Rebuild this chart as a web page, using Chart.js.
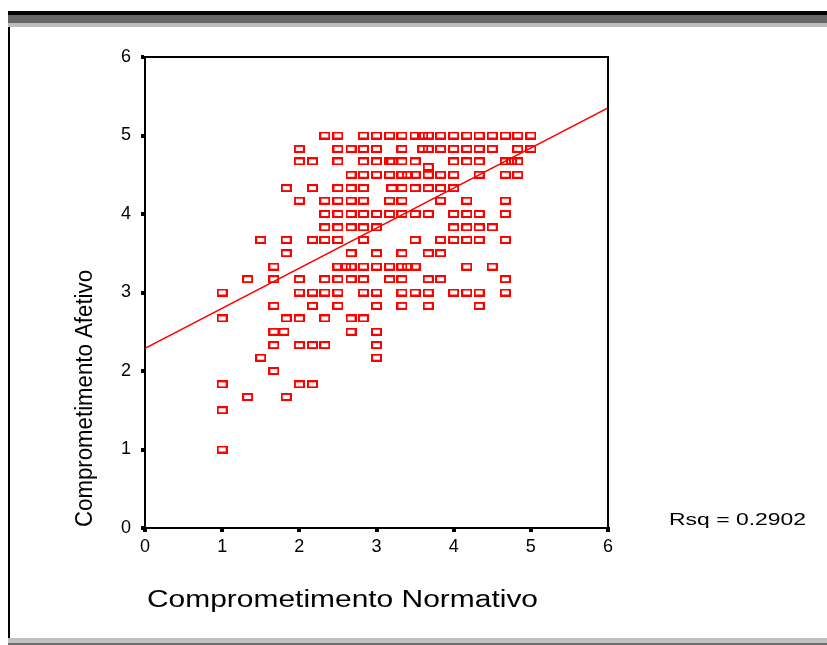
<!DOCTYPE html>
<html>
<head>
<meta charset="utf-8">
<title>Comprometimento Afetivo x Normativo</title>
<script src="https://cdn.jsdelivr.net/npm/chart.js@4"></script>
<style>
  html, body { margin: 0; padding: 0; background: #ffffff; }
  #wrap { width: 827px; height: 645px; }
</style>
</head>
<body>
<div id="wrap"><canvas id="scatterChart" width="827" height="645"></canvas></div>
<script>
(() => {
// ============================================================
// Scatter: Comprometimento Normativo (x) vs Afetivo (y)
// ============================================================

// y levels (Afetivo), one row of Normativo values per level
const afetivoLevels = [5, 4.83, 4.67, 4.6, 4.5, 4.33, 4.17, 4, 3.83, 3.67, 3.5, 3.33, 3.17, 3, 2.83, 2.67, 2.5, 2.33, 2.17, 2, 1.83, 1.67, 1.5, 1];

const normativoByLevel = [
  [2.33, 2.5, 2.83, 3, 3.17, 3.33, 3.5, 3.6, 3.67, 3.83, 4, 4.17, 4.33, 4.5, 4.67, 4.83, 5],
  [2, 2.5, 2.67, 2.83, 3, 3.33, 3.6, 3.67, 3.83, 4, 4.17, 4.33, 4.5, 4.83, 5],
  [2, 2.17, 2.5, 2.83, 3, 3.17, 3.2, 3.33, 3.5, 4, 4.17, 4.33, 4.67, 4.75, 4.83],
  [3.67],
  [2.67, 2.83, 3, 3.17, 3.33, 3.4, 3.5, 3.67, 3.83, 4, 4.33, 4.67, 4.83],
  [1.83, 2.17, 2.5, 2.67, 2.83, 3.2, 3.33, 3.5, 3.67, 3.83, 4],
  [2, 2.33, 2.5, 2.67, 2.83, 3.17, 3.33, 3.83, 4.17, 4.67],
  [2.33, 2.5, 2.67, 2.83, 3, 3.17, 3.33, 3.5, 3.67, 4, 4.17, 4.33, 4.67],
  [2.33, 2.5, 2.67, 2.83, 3, 4, 4.17, 4.33, 4.5],
  [1.5, 1.83, 2.17, 2.33, 2.5, 2.83, 3.5, 3.83, 4, 4.17, 4.33, 4.67],
  [1.83, 2.67, 3, 3.33, 3.67, 3.83],
  [1.67, 2.5, 2.6, 2.67, 2.83, 3, 3.17, 3.33, 3.4, 3.5, 4.17, 4.5],
  [1.33, 1.67, 2, 2.33, 2.5, 2.67, 2.83, 3.17, 3.33, 3.67, 3.83, 4.67],
  [1, 2, 2.17, 2.33, 2.5, 2.83, 3, 3.33, 3.5, 3.67, 4, 4.17, 4.33, 4.67],
  [1.67, 2.17, 2.5, 3, 3.33, 3.67, 4.33],
  [1, 1.83, 2, 2.33, 2.67, 2.83],
  [1.67, 1.8, 2.67, 3],
  [1.67, 2, 2.17, 2.33, 3],
  [1.5, 3],
  [1.67],
  [1, 2, 2.17],
  [1.33, 1.83],
  [1],
  [1]
];

// fitted line end points
const regressionX = [0, 6];
const regressionY = [2.29, 5.35];

const axisTicks = [0, 1, 2, 3, 4, 5, 6];

const xTitle = "Comprometimento Normativo";
const yTitle = "Comprometimento Afetivo";
const rsqLabel = "Rsq = 0.2902";

const FONT_FAMILY = "\"Liberation Sans\", Arial, sans-serif";
const MARK_RED = "#ff0000";

// ------------------------------------------------------------
// hollow rectangle marker (SPSS style)
// ------------------------------------------------------------
function makeMarker() {
  const marker = document.createElement("canvas");
  marker.width = 11;
  marker.height = 8;
  const mctx = marker.getContext("2d");
  mctx.strokeStyle = MARK_RED;
  mctx.lineWidth = 2;
  mctx.strokeRect(1, 1, 9, 6);
  return marker;
}

function drawFittedText(ctx, text, x, y, width, size, angle) {
  ctx.save();
  ctx.font = `${size}px ${FONT_FAMILY}`;
  const natural = ctx.measureText(text).width;
  ctx.translate(x, y);
  if (angle) ctx.rotate(angle);
  ctx.scale(width / natural, 1);
  ctx.fillStyle = "#000000";
  ctx.textAlign = "left";
  ctx.textBaseline = "alphabetic";
  ctx.fillText(text, 0, 0);
  ctx.restore();
}

const pagePlugin = {
  id: "spssPage",
  beforeDraw(chart) {
    const ctx = chart.ctx;
    const w = chart.width;
    ctx.save();
    ctx.fillStyle = "#ffffff";
    ctx.fillRect(0, 0, w, chart.height);
    // top rule
    ctx.fillStyle = "#000000";
    ctx.fillRect(8, 11, w - 8, 4);
    ctx.fillStyle = "#666666";
    ctx.fillRect(8, 15, w - 8, 8);
    ctx.fillStyle = "#bdbdbd";
    ctx.fillRect(8, 23, w - 8, 4);
    // left rule
    ctx.fillStyle = "#000000";
    ctx.fillRect(8, 27, 2, 611);
    // bottom rule
    ctx.fillStyle = "#c0c0c0";
    ctx.fillRect(8, 638, w - 8, 5);
    ctx.fillStyle = "#6e6e6e";
    ctx.fillRect(8, 643, w - 8, 2);
    ctx.restore();
  },
  afterDraw(chart) {
    const ctx = chart.ctx;
    const area = chart.chartArea;
    ctx.save();
    ctx.strokeStyle = "#000000";
    ctx.lineWidth = 2;
    ctx.beginPath();
    ctx.moveTo(area.left, area.top);
    ctx.lineTo(area.right, area.top);
    ctx.lineTo(area.right, area.bottom);
    ctx.stroke();
    ctx.restore();

    drawFittedText(ctx, xTitle, 147, 607, 391, 23, 0);
    drawFittedText(ctx, yTitle, 92, 527, 257, 23, -Math.PI / 2);
    drawFittedText(ctx, rsqLabel, 669, 525, 137, 16.5, 0);
  }
};

const scatterPoints = [];
afetivoLevels.forEach((level, i) => {
  normativoByLevel[i].forEach((x) => scatterPoints.push({ x, y: level }));
});

const linePoints = regressionX.map((x, i) => ({ x, y: regressionY[i] }));

const tickFont = { family: FONT_FAMILY, size: 18 };

function axisOptions(extra) {
  return Object.assign({
    type: "linear",
    min: 0,
    max: 6,
    afterBuildTicks: (scale) => {
      scale.ticks = axisTicks.map((value) => ({ value }));
    },
    ticks: {
      color: "#000000",
      font: tickFont
    },
    grid: {
      display: true,
      drawOnChartArea: false,
      drawTicks: true,
      tickLength: 4,
      lineWidth: 4,
      color: "#000000"
    },
    border: {
      display: true,
      color: "#000000",
      width: 2
    }
  }, extra);
}

const xAxis = axisOptions({
  position: "bottom",
  afterFit: (scale) => { scale.height = 117; }
});
xAxis.ticks = Object.assign({}, xAxis.ticks, { padding: 4, maxRotation: 0 });

const yAxis = axisOptions({
  position: "left",
  afterFit: (scale) => { scale.width = 145; }
});
yAxis.ticks = Object.assign({}, yAxis.ticks, { padding: 10 });

new Chart(document.getElementById("scatterChart").getContext("2d"), {
  type: "scatter",
  data: {
    datasets: [
      {
        label: "Afetivo",
        data: scatterPoints,
        pointStyle: makeMarker(),
        pointRadius: 5,
        pointHoverRadius: 5
      },
      {
        type: "line",
        label: "Fit",
        data: linePoints,
        borderColor: MARK_RED,
        borderWidth: 1.5,
        pointRadius: 0,
        fill: false
      }
    ]
  },
  options: {
    responsive: false,
    devicePixelRatio: 1,
    animation: false,
    layout: {
      padding: { left: 0, right: 219, top: 57, bottom: 0 }
    },
    scales: {
      x: xAxis,
      y: yAxis
    },
    plugins: {
      legend: { display: false },
      tooltip: { enabled: false }
    }
  },
  plugins: [pagePlugin]
});
})();
</script>
</body>
</html>
